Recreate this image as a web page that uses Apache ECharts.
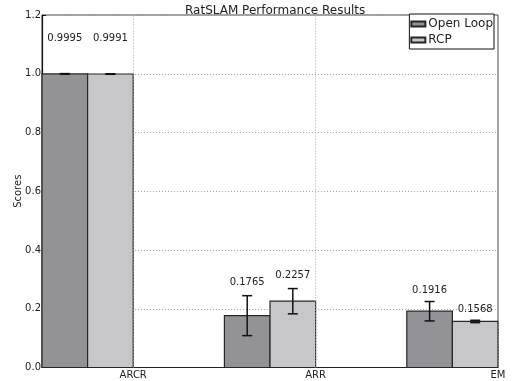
<!DOCTYPE html>
<html>
<head>
<meta charset="utf-8">
<script src="https://cdn.jsdelivr.net/npm/echarts@6/dist/echarts.min.js"></script>
<style>
  html, body { margin: 0; padding: 0; background: #fff; }
  #chart { width: 512px; height: 381px; }
</style>
</head>
<body>
<div id="chart"></div>
<script>
// RatSLAM results per metric
const categories = ['ARCR', 'ARR', 'EM'];
const seriesNames = ['Open Loop', 'RCP'];
const openLoop = [0.9995, 0.1765, 0.1916];
const openLoopErr = [0.001, 0.068, 0.033];
const rcp = [0.9991, 0.2257, 0.1568];
const rcpErr = [0.001, 0.043, 0.004];
const yTicks = [0.0, 0.2, 0.4, 0.6, 0.8, 1.0, 1.2];

// drawing style
const barW = 0.25;                  // bar width in group units
const colors = ['#939397', '#c7c7c9'];
const labelLift = [35, 13, 11];     // px between error cap and value text, per group
const FONT = 'DejaVu Sans';

// x positions: group i spans [i, i + 2*barW]; category tick sits at its right end
const tickPos = categories.map((c, i) => i + 2 * barW);

function makeData(vals, errs) {
  return vals.map((v, i) => [i, v, errs[i]]);
}

function renderBar(s) {
  return function (params, api) {
    const i = api.value(0), v = api.value(1), e = api.value(2);
    const x0 = i + s * barW;
    const pBase = api.coord([x0, 0]);
    const pTop = api.coord([x0 + barW, v]);
    const cx = (pBase[0] + pTop[0]) / 2;
    const yHi = api.coord([x0, v + e])[1];
    const yLo = api.coord([x0, v - e])[1];
    const cap = 5;
    return {
      type: 'group',
      children: [
        { type: 'rect',
          shape: { x: pBase[0], y: pTop[1], width: pTop[0] - pBase[0], height: pBase[1] - pTop[1] },
          style: { fill: colors[s], stroke: '#262626', lineWidth: 1.2 } },
        { type: 'line', shape: { x1: cx, y1: yHi, x2: cx, y2: yLo },
          style: { stroke: '#111', lineWidth: 1.5 } },
        { type: 'line', shape: { x1: cx - cap, y1: yHi, x2: cx + cap, y2: yHi },
          style: { stroke: '#111', lineWidth: 1.5 } },
        { type: 'line', shape: { x1: cx - cap, y1: yLo, x2: cx + cap, y2: yLo },
          style: { stroke: '#111', lineWidth: 1.5 } },
        { type: 'text',
          style: { text: v.toFixed(4), x: cx, y: yHi - labelLift[i],
                   align: 'center', verticalAlign: 'middle',
                   font: '10px "' + FONT + '"', fill: '#222' } }
      ]
    };
  };
}

const chart = echarts.init(document.getElementById('chart'), null, { renderer: 'canvas' });
chart.setOption({
  animation: false,
  backgroundColor: '#fff',
  textStyle: { fontFamily: FONT },
  title: {
    text: 'RatSLAM Performance Results',
    left: 180, top: 0,
    textStyle: { fontFamily: FONT, fontSize: 12, fontWeight: 'normal', color: '#222' }
  },
  grid: {
    left: 42, right: 14, top: 15, bottom: 13.5,
    outerBoundsMode: 'none', containLabel: false,
    show: true, borderColor: '#444', borderWidth: 1, backgroundColor: 'transparent'
  },
  legend: {
    data: seriesNames,
    orient: 'vertical',
    right: 18, top: 14,
    itemWidth: 14, itemHeight: 5, itemGap: 4,
    padding: [4, 1, 3, 1],
    backgroundColor: '#fff',
    borderColor: '#111', borderWidth: 1, borderRadius: 0,
    icon: 'rect',
    textStyle: { fontFamily: FONT, fontSize: 12, color: '#222', padding: [0, 0, 0, -2] }
  },
  xAxis: {
    type: 'value',
    min: 0, max: 2.5,
    axisLine: { show: true, lineStyle: { color: '#222', width: 1 } },
    axisTick: { show: false },
    splitLine: { show: false },
    axisLabel: {
      customValues: tickPos,
      formatter: v => {
        const k = tickPos.findIndex(t => Math.abs(t - v) < 1e-6);
        return k >= 0 ? categories[k] : '';
      },
      margin: 3, fontFamily: FONT, fontSize: 10, color: '#222', showMaxLabel: true
    }
  },
  yAxis: {
    type: 'value',
    min: 0, max: 1.2, interval: 0.2,
    name: 'Scores', nameLocation: 'middle', nameGap: 19, nameMoveOverlap: false,
    nameTextStyle: { fontFamily: FONT, fontSize: 10, color: '#222' },
    axisLine: { show: true, lineStyle: { color: '#111', width: 1.2 } },
    axisTick: { show: true, inside: true, length: 4, lineStyle: { color: '#111' } },
    axisLabel: {
      formatter: v => { const k = yTicks.findIndex(t => Math.abs(t - v) < 1e-6); return k >= 0 ? yTicks[k].toFixed(1) : ''; },
      margin: 1, fontFamily: FONT, fontSize: 10, color: '#222'
    },
    splitLine: { show: true, lineStyle: { color: '#a8a8a8', type: [1, 2], width: 1 } }
  },
  series: [
    {
      type: 'line', data: [], z: 1, silent: true,
      markLine: {
        silent: true, symbol: 'none', label: { show: false },
        lineStyle: { color: '#a8a8a8', type: [1, 2], width: 1 },
        data: tickPos.map(t => ({ xAxis: t }))
      }
    },
    {
      name: seriesNames[0], type: 'custom', z: 3,
      renderItem: renderBar(0),
      itemStyle: { color: colors[0], borderColor: '#262626', borderWidth: 1 },
      encode: { x: 0, y: 1 },
      data: makeData(openLoop, openLoopErr)
    },
    {
      name: seriesNames[1], type: 'custom', z: 3,
      renderItem: renderBar(1),
      itemStyle: { color: colors[1], borderColor: '#262626', borderWidth: 1 },
      encode: { x: 0, y: 1 },
      data: makeData(rcp, rcpErr)
    }
  ]
});
</script>
</body>
</html>
